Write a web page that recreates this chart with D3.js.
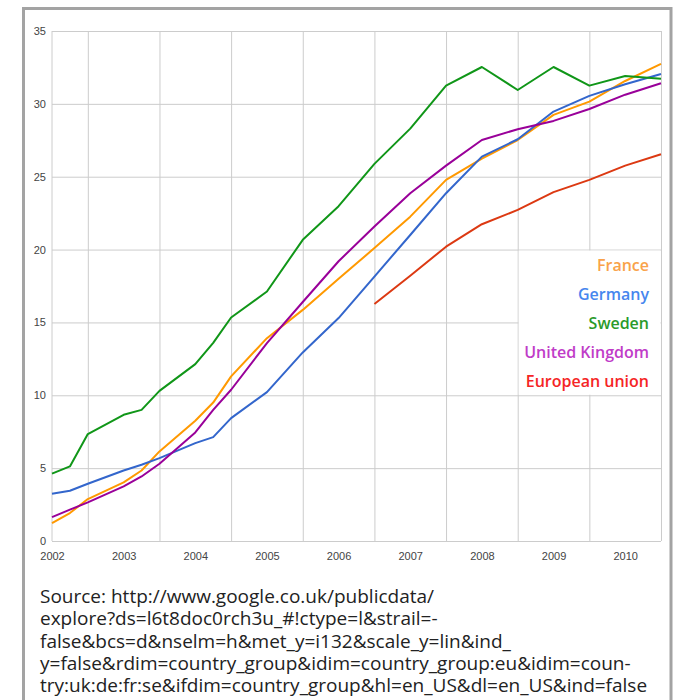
<!DOCTYPE html>
<html>
<head>
<meta charset="utf-8">
<script src="https://cdn.jsdelivr.net/npm/d3@7"></script>
<style>
  body { margin: 0; background: #fff; }
  svg { display: block; }
</style>
</head>
<body>
<div id="chart"></div>
<script>
// time points (fractional years)
const periods = [2002, 2002.25, 2002.5, 2003, 2003.25, 2003.5, 2004, 2004.25, 2004.5,
  2005, 2005.5, 2006, 2006.5, 2007, 2007.5, 2008, 2008.5, 2009, 2009.5, 2010, 2010.5];

const france = [1.23, 1.92, 2.88, 4.02, 4.84, 6.15, 8.25, 9.5, 11.3,
  13.92, 15.86, 18.0, 20.1, 22.26, 24.78, 26.24, 27.52, 29.24, 30.15, 31.57, 32.74];
const germany = [3.24, 3.45, 3.93, 4.84, 5.23, 5.69, 6.72, 7.13, 8.43,
  10.22, 12.94, 15.3, 18.15, 21.0, 23.87, 26.38, 27.57, 29.47, 30.55, 31.35, 32.05];
const sweden = [4.62, 5.12, 7.34, 8.66, 9.0, 10.3, 12.14, 13.6, 15.34,
  17.12, 20.67, 22.98, 25.88, 28.3, 31.25, 32.53, 30.95, 32.53, 31.25, 31.91, 31.73];
const uk = [1.64, 2.15, 2.65, 3.75, 4.43, 5.3, 7.45, 9.0, 10.38,
  13.58, 16.4, 19.2, 21.58, 23.87, 25.76, 27.52, 28.26, 28.83, 29.65, 30.63, 31.41];
const eu = [null, null, null, null, null, null, null, null, null,
  null, null, null, 16.27, 18.2, 20.2, 21.74, 22.72, 23.94, 24.78, 25.76, 26.54];

const seriesNames = ['France', 'Germany', 'Sweden', 'United Kingdom', 'European union'];
const yearTicks = [2002, 2003, 2004, 2005, 2006, 2007, 2008, 2009, 2010];
const gridYears = [2002.5, 2003.5, 2004.5, 2005.5, 2006.5, 2007.5, 2008.5, 2009.5, 2010.5];
const valueTicks = [0, 5, 10, 15, 20, 25, 30, 35];

const sourceLines = [
  'Source: http://www.google.co.uk/publicdata/',
  'explore?ds=l6t8doc0rch3u_#!ctype=l&strail=-',
  'false&bcs=d&nselm=h&met_y=i132&scale_y=lin&ind_',
  'y=false&rdim=country_group&idim=country_group:eu&idim=coun-',
  'try:uk:de:fr:se&ifdim=country_group&hl=en_US&dl=en_US&ind=false'
];

const lineColors = ['#ff9900', '#3366cc', '#109618', '#990099', '#dc3912'];
const labelColors = ['#f9a24a', '#4686ee', '#2a9a2a', '#c03cc8', '#f52525'];

const width = 677, height = 700;
const margin = { top: 31, right: 16, bottom: 159, left: 52 };
const plotW = width - margin.left - margin.right;
const plotH = height - margin.top - margin.bottom;

const svg = d3.select('#chart').append('svg')
  .attr('width', width)
  .attr('height', height);

// outer frame
svg.append('rect')
  .attr('x', 23.5).attr('y', 8.5)
  .attr('width', 647.5).attr('height', 760)
  .attr('fill', 'none')
  .attr('stroke', '#a3a3a3')
  .attr('stroke-width', 3);

const g = svg.append('g')
  .attr('transform', `translate(${margin.left},${margin.top})`);

const x = d3.scaleLinear().domain([2002, 2010.5]).range([0, plotW]);
const y = d3.scaleLinear().domain([0, 35]).range([plotH, 0]);

const axisFont = '"Liberation Sans Narrow", "Liberation Sans", Arial, sans-serif';

// horizontal grid + y labels
g.append('g')
  .call(d3.axisLeft(y).tickValues(valueTicks).tickSize(-plotW).tickPadding(6))
  .call(s => s.select('.domain').remove())
  .call(s => s.selectAll('line').attr('stroke', '#cccccc'))
  .call(s => s.selectAll('text')
    .attr('fill', '#444')
    .style('font-family', axisFont)
    .style('font-size', '11px'));

// vertical grid at mid-years
g.append('g')
  .attr('transform', `translate(0,${plotH})`)
  .call(d3.axisBottom(x).tickValues(gridYears).tickSize(-plotH).tickFormat(''))
  .call(s => s.select('.domain').remove())
  .call(s => s.selectAll('line').attr('stroke', '#cccccc'));

// left edge line
g.append('line')
  .attr('x1', x(2002)).attr('x2', x(2002))
  .attr('y1', 0).attr('y2', plotH)
  .attr('stroke', '#cccccc');

// year labels
g.append('g')
  .attr('transform', `translate(0,${plotH})`)
  .call(d3.axisBottom(x).tickValues(yearTicks).tickSize(0).tickPadding(11).tickFormat(d3.format('d')))
  .call(s => s.select('.domain').remove())
  .call(s => s.selectAll('text')
    .attr('fill', '#444')
    .style('font-family', axisFont)
    .style('font-size', '11px'));

// lines
const allSeries = [france, germany, sweden, uk, eu];
const line = d3.line()
  .defined(d => d.v != null)
  .x(d => x(d.t))
  .y(d => y(d.v));

g.append('g').attr('class', 'lines')
  .selectAll('path')
  .data(allSeries)
  .join('path')
  .attr('fill', 'none')
  .attr('stroke', (d, i) => lineColors[i])
  .attr('stroke-width', 2)
  .attr('stroke-linejoin', 'round')
  .attr('d', vals => line(vals.map((v, i) => ({ t: periods[i], v }))));

// legend box covering the cell between 2008.5-2010.5 and 10-20
g.append('rect')
  .attr('x', x(2008.5) + 1)
  .attr('y', y(20) + 1)
  .attr('width', x(2010.5) - x(2008.5) - 1.5)
  .attr('height', y(10) - y(20) - 1.5)
  .attr('fill', '#fff');

g.append('g').attr('class', 'legend')
  .selectAll('text')
  .data(seriesNames)
  .join('text')
  .attr('x', 597)
  .attr('y', (d, i) => 240 + i * 29)
  .attr('text-anchor', 'end')
  .attr('fill', (d, i) => labelColors[i])
  .style('font-family', '"Open Sans", sans-serif')
  .style('font-weight', 600)
  .style('font-size', '16px')
  .text(d => d);

// source note
svg.append('g')
  .selectAll('text')
  .data(sourceLines)
  .join('text')
  .attr('x', 40)
  .attr('y', (d, i) => 603 + i * 22.25)
  .attr('fill', '#222')
  .style('font-family', '"Open Sans", sans-serif')
  .style('font-size', '19px')
  .text(d => d);
</script>
</body>
</html>
